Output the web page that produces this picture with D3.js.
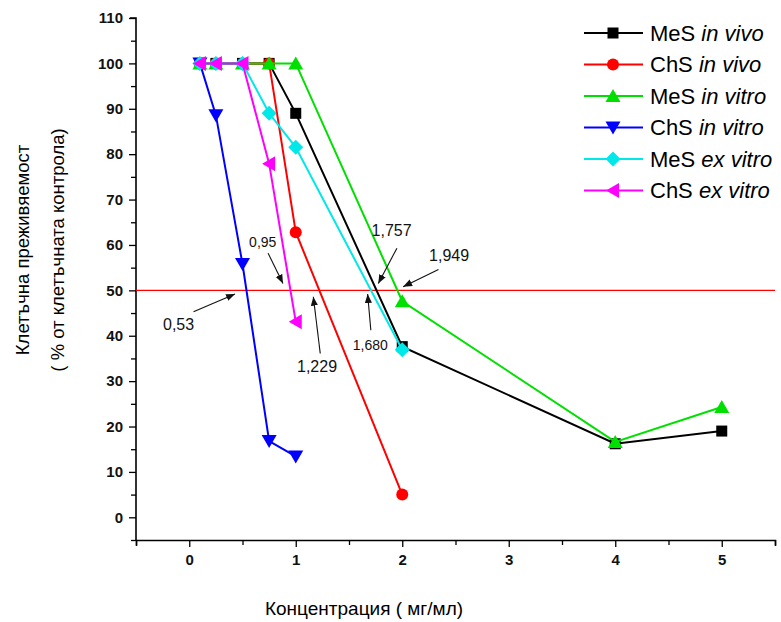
<!DOCTYPE html>
<html>
<head>
<meta charset="utf-8">
<script src="https://cdn.jsdelivr.net/npm/d3@7"></script>
<style>
  body { margin: 0; background: #fff; }
  svg { font-family: 'Liberation Sans', Arial, sans-serif; }
</style>
</head>
<body>
<svg id="chart" width="781" height="622"></svg>
<script>
// concentrations (mg/ml)
const concVivo = [0.1, 0.25, 0.5, 0.75, 1, 2, 4, 5];
const mesInVivo = [100, 100, 100, 100, 89, 37.6, 16.2, 19];
const chsInVivo = [100, 100, 100, 100, 62.8, 5];
const mesInVitro = [100, 100, 100, 100, 100, 47.6, 16.6, 24.3];
const chsInVitro = [100, 88.6, 55.8, 16.8, 13.4];
const mesExVitro = [100, 100, 100, 89, 81.5, 36.9];
const chsExVitro = [100, 100, 100, 77.9, 43.1];

const xTicks = [0, 1, 2, 3, 4, 5];
const yTicks = [0, 10, 20, 30, 40, 50, 60, 70, 80, 90, 100, 110];

// IC50 annotations: label, text pos, arrow start, arrow end (in data units)
const annLabels = ['0,53', '0,95', '1,229', '1,680', '1,757', '1,949'];
const annText = [[-0.1, 42.4], [0.69, 60.6], [1.2, 33.2], [1.7, 38], [1.9, 63.3], [2.44, 57.8]];
const annFrom = [[0.04, 45.3], [0.74, 58.2], [1.23, 36.1], [1.705, 41.2], [1.95, 59.3], [2.34, 54.6]];
const annTo = [[0.43, 49.2], [0.88, 51.5], [1.165, 48.6], [1.675, 49.2], [1.775, 51.5], [2.008, 50.8]];
const annSmall = ['0,95', '1,680'];

const series = [
  { name: 'MeS', mode: 'in vivo', color: '#000000', shape: 'square', x: concVivo, y: mesInVivo },
  { name: 'ChS', mode: 'in vivo', color: '#ff0000', shape: 'circle', x: concVivo, y: chsInVivo },
  { name: 'MeS', mode: 'in vitro', color: '#00e000', shape: 'up', x: concVivo, y: mesInVitro },
  { name: 'ChS', mode: 'in vitro', color: '#0000ff', shape: 'down', x: concVivo, y: chsInVitro },
  { name: 'MeS', mode: 'ex vitro', color: '#00e8e8', shape: 'diamond', x: concVivo, y: mesExVitro },
  { name: 'ChS', mode: 'ex vitro', color: '#ff00ff', shape: 'left', x: concVivo, y: chsExVitro }
];

const svg = d3.select('#chart');
const margin = { left: 136, right: 6, top: 18, bottom: 82 };
const W = 781, H = 622;

const x = d3.scaleLinear().domain([-0.5, 5.5]).range([margin.left, W - margin.right]);
const y = d3.scaleLinear().domain([-5, 110]).range([H - margin.bottom, margin.top]);

// marker shapes
function marker(g, shape, color) {
  let p;
  if (shape === 'square') {
    p = g.append('rect').attr('x', -5.5).attr('y', -5.5).attr('width', 11).attr('height', 11);
  } else if (shape === 'circle') {
    p = g.append('circle').attr('r', 6);
  } else if (shape === 'up') {
    p = g.append('path').attr('d', 'M0,-7L7.5,6L-7.5,6Z');
  } else if (shape === 'down') {
    p = g.append('path').attr('d', 'M0,7L7.5,-6L-7.5,-6Z');
  } else if (shape === 'diamond') {
    p = g.append('path').attr('d', 'M0,-7.5L7.5,0L0,7.5L-7.5,0Z');
  } else {
    p = g.append('path').attr('d', 'M-7,0L6,-7.5L6,7.5Z');
  }
  p.attr('fill', color);
}

// axes
const xAxis = d3.axisBottom(x).tickValues(d3.range(-0.5, 5.51, 0.5))
  .tickSize(6).tickFormat(d => xTicks.includes(d) ? d : '');
const gx = svg.append('g').attr('transform', `translate(0,${y(-5)})`).call(xAxis);
gx.selectAll('.tick line').attr('y2', d => xTicks.includes(d) ? 7 : 5).attr('stroke-width', 1.3);
gx.select('.domain').attr('stroke-width', 1.6);
gx.selectAll('text').attr('y', 14).style('font-size', '15px').style('font-weight', 'bold').attr('fill', '#111');

const yAxis = d3.axisLeft(y).tickValues(d3.range(-5, 110.1, 5))
  .tickSize(6).tickFormat(d => yTicks.includes(d) ? d : '');
const gy = svg.append('g').attr('transform', `translate(${x(-0.5)},0)`).call(yAxis);
gy.selectAll('.tick line').attr('x2', d => yTicks.includes(d) ? -7 : -5).attr('stroke-width', 1.3);
gy.select('.domain').attr('stroke-width', 1.6);
gy.selectAll('text').attr('x', -13).style('font-size', '15px').style('font-weight', 'bold').attr('fill', '#111');
gy.selectAll('.domain').attr('d', `M-6,${y(110)}H0V${y(-5)}`);

// 50% line
svg.append('line')
  .attr('x1', x(-0.5)).attr('x2', x(5.5))
  .attr('y1', y(50)).attr('y2', y(50))
  .attr('stroke', '#ff0000').attr('stroke-width', 1.4);

// series
const line = d3.line().x(d => x(d[0])).y(d => y(d[1]));
series.forEach(s => {
  const pts = s.y.map((v, i) => [s.x[i], v]);
  svg.append('path').attr('d', line(pts))
    .attr('fill', 'none').attr('stroke', s.color).attr('stroke-width', 2);
  pts.forEach(p => {
    const g = svg.append('g').attr('transform', `translate(${x(p[0])},${y(p[1])})`);
    marker(g, s.shape, s.color);
  });
});

// annotations
svg.append('defs').append('marker')
  .attr('id', 'arr').attr('viewBox', '0 0 10 10').attr('refX', 10).attr('refY', 5)
  .attr('markerWidth', 9).attr('markerHeight', 9).attr('markerUnits', 'userSpaceOnUse')
  .attr('orient', 'auto')
  .append('path').attr('d', 'M0,1L10,5L0,9Z').attr('fill', '#111');

annLabels.forEach((lab, i) => {
  svg.append('line')
    .attr('x1', x(annFrom[i][0])).attr('y1', y(annFrom[i][1]))
    .attr('x2', x(annTo[i][0])).attr('y2', y(annTo[i][1]))
    .attr('stroke', '#111').attr('stroke-width', 1.1).attr('marker-end', 'url(#arr)');
  svg.append('text')
    .attr('x', x(annText[i][0])).attr('y', y(annText[i][1]))
    .attr('text-anchor', 'middle').attr('dy', '0.35em')
    .style('font-size', annSmall.includes(lab) ? '14px' : '16px')
    .attr('fill', '#111')
    .text(lab);
});

// axis titles
svg.append('text')
  .attr('x', 364).attr('y', 615)
  .attr('text-anchor', 'middle')
  .style('font-size', '19px')
  .text('Концентрация  ( мг/мл)');

const yt = svg.append('g').attr('transform', 'translate(0,250) rotate(-90)');
yt.append('text').attr('x', 0).attr('y', 29).attr('text-anchor', 'middle')
  .style('font-size', '18.5px').text('Клетъчна преживяемост');
yt.append('text').attr('x', 0).attr('y', 64).attr('text-anchor', 'middle')
  .style('font-size', '18.5px').text('( % от клетъчната контрола)');

// legend
const legend = svg.append('g').attr('transform', 'translate(584,33)');
series.forEach((s, i) => {
  const g = legend.append('g').attr('transform', `translate(0,${i * 31.5})`);
  g.append('line').attr('x1', 0).attr('x2', 59).attr('stroke', s.color).attr('stroke-width', 2);
  const m = g.append('g').attr('transform', 'translate(29,0)');
  marker(m, s.shape, s.color);
  const t = g.append('text').attr('x', 66).attr('dy', '0.35em').style('font-size', '22px');
  t.append('tspan').text(s.name + ' ');
  t.append('tspan').style('font-style', 'italic').text(s.mode);
});
</script>
</body>
</html>
